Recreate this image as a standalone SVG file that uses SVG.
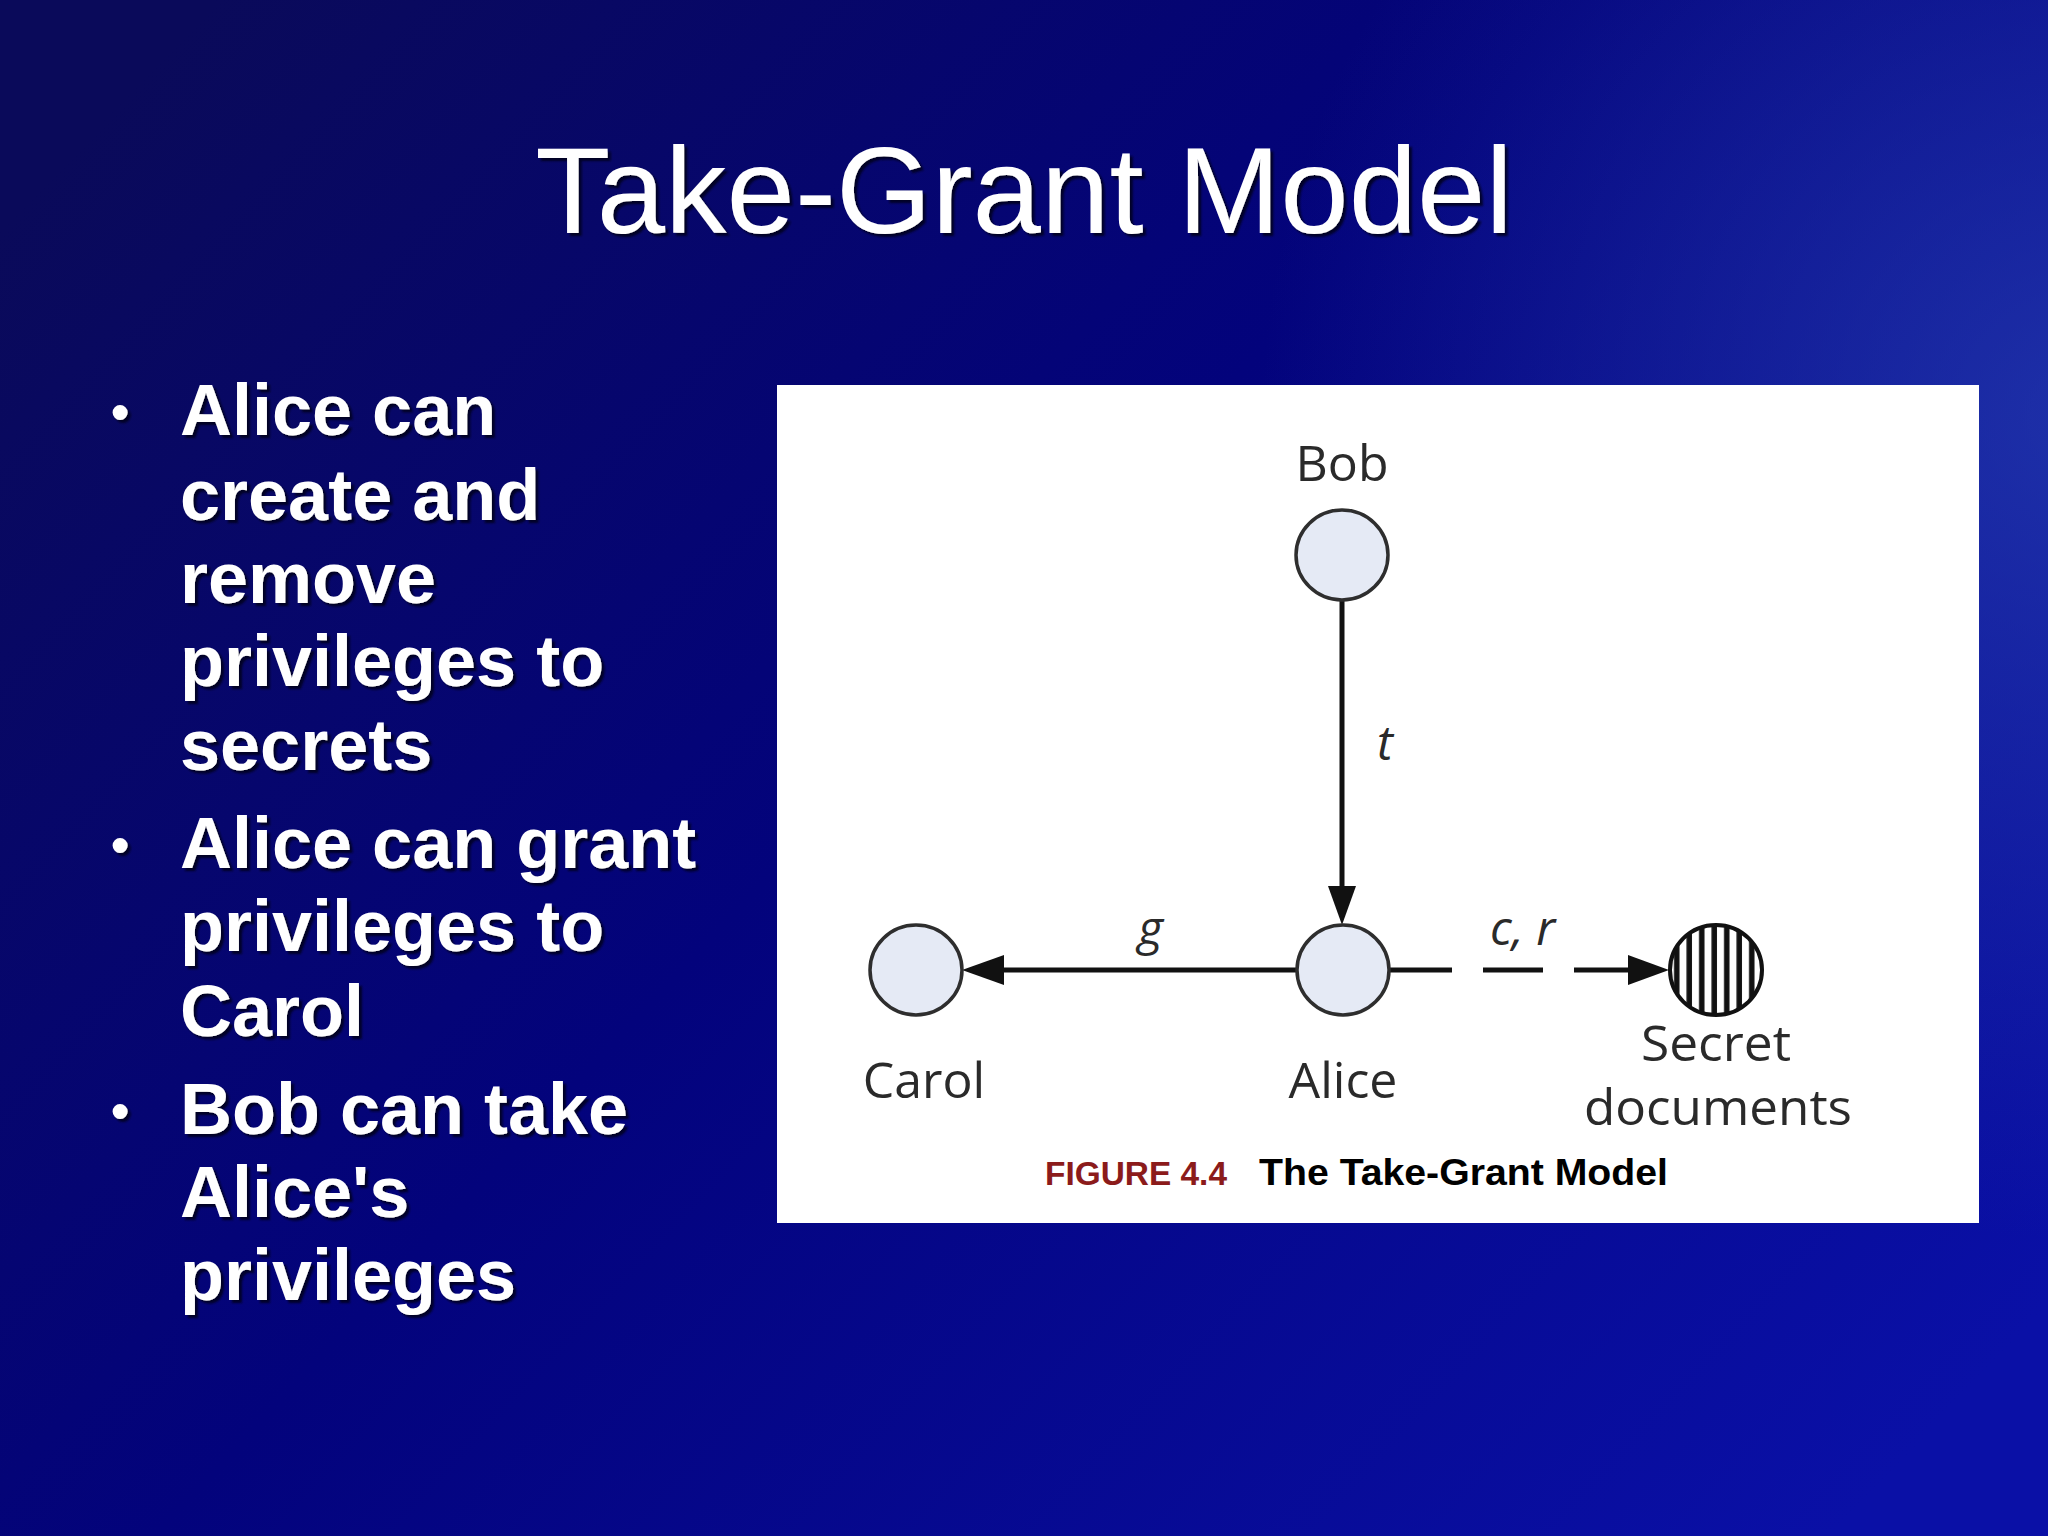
<svg xmlns="http://www.w3.org/2000/svg" width="2048" height="1536" viewBox="0 0 2048 1536">
  <defs>
    <linearGradient id="bg" x1="0" y1="0.15" x2="1" y2="0.85">
      <stop offset="0" stop-color="#0a0a5a"/>
      <stop offset="0.45" stop-color="#03037c"/>
      <stop offset="1" stop-color="#0a10a6"/>
    </linearGradient>
    <radialGradient id="glow" cx="2080" cy="420" r="820" gradientUnits="userSpaceOnUse">
      <stop offset="0" stop-color="#2a44b4" stop-opacity="0.65"/>
      <stop offset="1" stop-color="#2a44b4" stop-opacity="0"/>
    </radialGradient>
    <filter id="shadow" x="-5%" y="-10%" width="110%" height="130%">
      <feDropShadow dx="3" dy="3" stdDeviation="0.8" flood-color="#000018" flood-opacity="0.85"/>
    </filter>
    <pattern id="stripes" x="1668" y="0" width="12.5" height="20" patternUnits="userSpaceOnUse">
      <rect x="0" y="0" width="12.5" height="20" fill="#ffffff"/>
      <rect x="6" y="0" width="5.5" height="20" fill="#111111"/>
    </pattern>
    <style>
      .title { font-family: "Liberation Sans", Arial, sans-serif; font-size: 123px; fill: #ffffff; }
      .bullet { font-family: "Liberation Sans", Arial, sans-serif; font-size: 72px; font-weight: bold; fill: #ffffff; }
      .dot { font-family: "Liberation Sans", Arial, sans-serif; font-size: 52px; font-weight: bold; fill: #ffffff; }
      .node { fill: #e5eaf5; stroke: #2e2e2e; stroke-width: 3.5; }
      .label { font-family: "Open Sans", "Noto Sans", sans-serif; font-size: 50px; fill: #2a2a2a; text-anchor: middle; }
      .elabel { font-family: "Open Sans", "Noto Sans", sans-serif; font-size: 48px; font-style: italic; fill: #2a2a2a; }
      .edge { stroke: #111111; stroke-width: 5; fill: none; }
      .head { fill: #111111; }
      .cap { font-family: "Liberation Sans", Arial, sans-serif; font-weight: bold; }
    </style>
  </defs>

  <rect x="0" y="0" width="2048" height="1536" fill="url(#bg)"/>
  <rect x="0" y="0" width="2048" height="1536" fill="url(#glow)"/>

  <g id="title" filter="url(#shadow)">
    <text class="title" x="1024" y="233" text-anchor="middle">Take-Grant Model</text>
  </g>

  <g id="bullets" filter="url(#shadow)">
    <text class="dot" x="111" y="430">•</text>
    <text class="bullet" x="180" y="435">Alice can</text>
    <text class="bullet" x="180" y="520">create and</text>
    <text class="bullet" x="180" y="603">remove</text>
    <text class="bullet" x="180" y="686">privileges to</text>
    <text class="bullet" x="180" y="770">secrets</text>
    <text class="dot" x="111" y="863">•</text>
    <text class="bullet" x="180" y="868">Alice can grant</text>
    <text class="bullet" x="180" y="951">privileges to</text>
    <text class="bullet" x="180" y="1036">Carol</text>
    <text class="dot" x="111" y="1129">•</text>
    <text class="bullet" x="180" y="1134">Bob can take</text>
    <text class="bullet" x="180" y="1217">Alice's</text>
    <text class="bullet" x="180" y="1300">privileges</text>
  </g>

  <g id="figure-panel">
    <rect x="777" y="385" width="1202" height="838" fill="#ffffff"/>
  </g>

  <g id="connectors">
    <line class="edge" x1="1342" y1="600" x2="1342" y2="892"/>
    <polygon class="head" points="1342,925 1328,886 1356,886"/>
    <text class="elabel" x="1377" y="760">t</text>

    <line class="edge" x1="1297" y1="970" x2="998" y2="970"/>
    <polygon class="head" points="962,970 1004,955 1004,985"/>
    <text class="elabel" x="1138" y="945">g</text>

    <line class="edge" x1="1389" y1="970" x2="1452" y2="970"/>
    <line class="edge" x1="1483" y1="970" x2="1543" y2="970"/>
    <line class="edge" x1="1574" y1="970" x2="1636" y2="970"/>
    <polygon class="head" points="1669,970 1628,955 1628,985"/>
    <text class="elabel" x="1490" y="945">c, r</text>
  </g>

  <g id="node-bob">
    <ellipse class="node" cx="1342" cy="555" rx="46" ry="45"/>
    <text class="label" x="1342" y="481">Bob</text>
  </g>

  <g id="node-alice">
    <ellipse class="node" cx="1343" cy="970" rx="46" ry="45"/>
    <text class="label" x="1343" y="1098">Alice</text>
  </g>

  <g id="node-carol">
    <ellipse class="node" cx="916" cy="970" rx="46" ry="45"/>
    <text class="label" x="924" y="1098">Carol</text>
  </g>

  <g id="node-secret">
    <ellipse cx="1716" cy="970" rx="46" ry="45" fill="url(#stripes)" stroke="#111111" stroke-width="4"/>
    <text class="label" x="1716" y="1061" font-size="47" textLength="150" lengthAdjust="spacingAndGlyphs">Secret</text>
    <text class="label" x="1718" y="1125" font-size="47" textLength="268" lengthAdjust="spacingAndGlyphs">documents</text>
  </g>

  <g id="caption">
    <text class="cap" x="1045" y="1185" font-size="33" fill="#8b1b1b" textLength="182" lengthAdjust="spacingAndGlyphs">FIGURE 4.4</text>
    <text class="cap" x="1259" y="1185" font-size="37" fill="#000000" textLength="409" lengthAdjust="spacingAndGlyphs">The Take-Grant Model</text>
  </g>
</svg>
